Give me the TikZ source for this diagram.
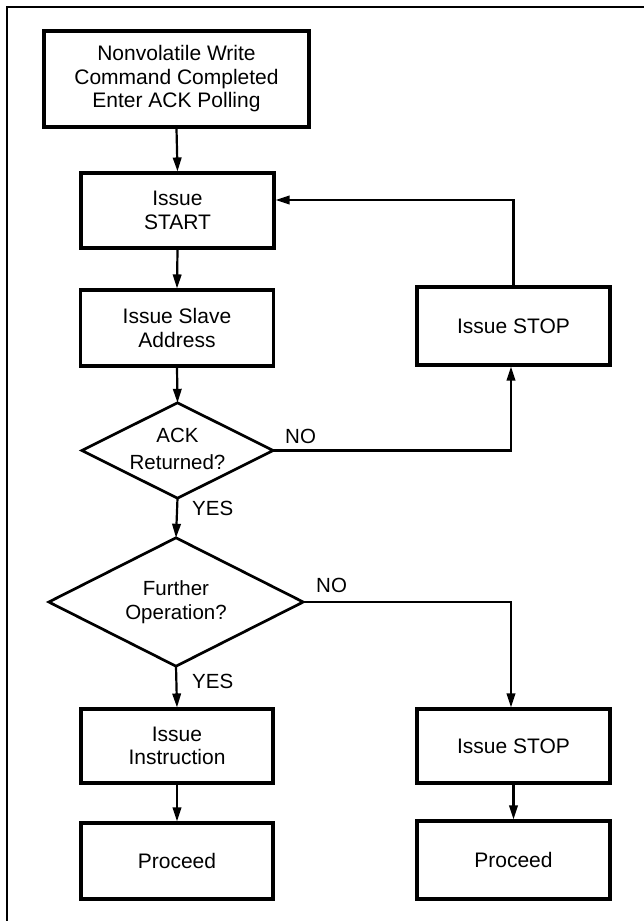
\documentclass[tikz,border=0pt]{standalone}
\usepackage{fontspec}
\setmainfont{Liberation Sans}
\usetikzlibrary{arrows.meta}
\begin{document}
\begin{tikzpicture}[x=1pt,y=-1pt,
  stepbox/.style={draw, line width=3.1pt, rectangle, inner sep=0pt, align=center,
     minimum width=193pt, minimum height=75pt, font=\fontsize{21}{23.5}\selectfont},
  decision/.style={inner sep=0pt, align=center, font=\fontsize{20.5}{24}\selectfont},
  dline/.style={line width=2.7pt, line join=miter},
  lbl/.style={inner sep=0pt, anchor=west, font=\fontsize{20.5}{24}\selectfont},
  arr/.style={line width=2.2pt, -{Triangle[length=14pt,width=8.5pt]}},
  conn/.style={line width=2.2pt}]
\useasboundingbox (0,0) rectangle (644,921);
\draw[line width=2.4pt] (7,921) -- (7,7) -- (644,7);

\node[stepbox, minimum width=265pt, minimum height=96pt] (top) at (176.5,79)
  {Nonvolatile Write\\Command Completed\\Enter ACK Polling};
\node[stepbox] (start) at (177.5,210.5) {Issue\\START};
\node[stepbox, minimum height=76pt] (slave) at (177,328) {Issue Slave\\Address};
\node[stepbox, minimum height=78pt] (stopa) at (513.5,326) {Issue STOP};

\node[decision, minimum width=191pt, minimum height=95pt, font=\fontsize{20.5}{27}\selectfont] (ack) at (177.5,449) {ACK\\Returned?};
\draw[dline] ([yshift=-1.5pt]ack.north) -- ([yshift=-1.5pt]ack.east) -- ([yshift=-1.5pt]ack.south) -- ([yshift=-1.5pt]ack.west) -- cycle;

\node[decision, minimum width=254pt, minimum height=128pt] (fur) at (176,602) {Further\\Operation?};
\draw[dline] (fur.north) -- (fur.east) -- (fur.south) -- (fur.west) -- cycle;

\node[stepbox, minimum width=192pt, minimum height=74pt] (instr) at (177,746) {Issue\\Instruction};
\node[stepbox, minimum width=192pt, minimum height=76pt] (procl) at (177,861) {Proceed};
\node[stepbox, minimum width=193pt, minimum height=74pt] (stopb) at (513.5,746) {Issue STOP};
\node[stepbox, minimum width=193pt, minimum height=78pt] (procr) at (513.5,860) {Proceed};

\draw[arr] (top.south) -- (start.north);
\draw[arr] (start.south) -- (slave.north);
\draw[arr] (slave.south) -- ([yshift=-1.5pt]ack.north);
\draw[arr] ([yshift=-1.5pt]ack.south) -- (fur.north);
\draw[arr] (fur.south) -- (instr.north);
\draw[arr] (instr.south) -- (procl.north);
\draw[arr] (stopb.south) -- (procr.north);
\draw[arr] ([yshift=-1.5pt]ack.east) -| ([xshift=-2.5pt]stopa.south);
\draw[arr] (stopa.north) |- ([yshift=10.5pt]start.east);
\draw[arr] (fur.east) -| ([xshift=-2.5pt]stopb.north);

\node[lbl] (no1) at (285,436) {NO};
\node[lbl] (yes1) at (192,508) {YES};
\node[lbl] (no2) at (316,585) {NO};
\node[lbl] (yes2) at (192,681) {YES};
\end{tikzpicture}
\end{document}
